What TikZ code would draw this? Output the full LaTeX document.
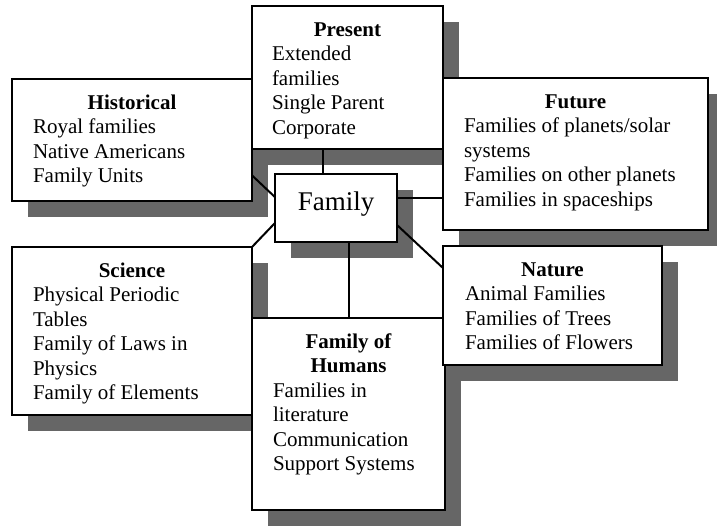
\documentclass[tikz,border=0pt]{standalone}
\usepackage{fontspec}
\setmainfont{Liberation Serif}
\usetikzlibrary{calc,backgrounds}

\tikzset{
  card/.style={draw=black, line width=2pt, fill=white, anchor=north west,
               inner sep=0pt, outer sep=0pt},
  shade/.style={fill=black!60, draw=none},
  link/.style={draw=black, line width=2pt},
  body/.style={anchor=base west, inner sep=0pt, outer sep=0pt,
               font=\fontsize{21}{24.4}\selectfont},
}
% centred bold heading followed by left-aligned lines
\newcommand\cardtext[3]{\parbox[t]{#1}{\centering\textbf{#2}\par\raggedright #3}}

\begin{document}
\begin{tikzpicture}[x=1pt,y=-1pt]
  \useasboundingbox (0,0) rectangle (717,525);

  % boxes
  \node[card, minimum width=240pt, minimum height=122pt] (hist) at (12,79) {};
  \node[card, minimum width=191pt, minimum height=143pt] (pres) at (252,6) {};
  \node[card, minimum width=265pt, minimum height=152pt] (fut)  at (443,78) {};
  \node[card, minimum width=240pt, minimum height=168pt] (sci)  at (12,247) {};
  \node[card, minimum width=193pt, minimum height=192pt] (hum)  at (252,318) {};
  \node[card, minimum width=219pt, minimum height=119pt] (nat)  at (443,246) {};
  \node[card, minimum width=122pt, minimum height=68pt]  (fam)  at (275,174) {};

  % page background and drop shadows behind every box
  \begin{pgfonlayer}{background}
    \fill[white] (0,0) rectangle (717,525);
    \foreach \b in {hist,pres,fut,sci,hum,nat,fam}
      \fill[shade] ($(\b.north west)+(16,16)$) rectangle ($(\b.south east)+(16,16)$);
  \end{pgfonlayer}

  % texts
  \node[font=\fontsize{27}{30}\selectfont, anchor=base, inner sep=0pt] (famtxt)
    at ($(fam.north)+(0,36)$) {Family};
  \node[body] (histtxt) at ($(hist.north west)+(21,30.5)$)
    {\cardtext{198pt}{Historical}{Royal families\\Native Americans\\Family Units}};
  \node[body] (prestxt) at ($(pres.north west)+(20,30.5)$)
    {\cardtext{151pt}{Present}{Extended\\families\\Single Parent\\Corporate}};
  \node[body] (futtxt) at ($(fut.north west)+(21,30.5)$)
    {\cardtext{223pt}{Future}{Families of planets/solar\\systems\\Families on other planets\\Families in spaceships}};
  \node[body] (scitxt) at ($(sci.north west)+(21,30.5)$)
    {\cardtext{198pt}{Science}{Physical Periodic\\Tables\\Family of Laws in\\Physics\\Family of Elements}};
  \node[body] (humtxt) at ($(hum.north west)+(21,30.5)$)
    {\cardtext{151pt}{Family of\\Humans}{Families in\\literature\\Communication\\Support Systems}};
  \node[body] (nattxt) at ($(nat.north west)+(22,30.5)$)
    {\cardtext{175pt}{Nature}{Animal Families\\Families of Trees\\Families of Flowers}};

  % connectors to the central box
  \draw[link] ($(hist.north east)!0.79!(hist.south east)$) -- ($(fam.north west)!0.34!(fam.south west)$);
  \draw[link] (sci.north east) -- ($(fam.north west)!0.72!(fam.south west)$);
  \draw[link] ($(fam.north west)!0.39!(fam.north east)$) coordinate (pa) -- (pa |- pres.south);
  \draw[link] ($(fam.north east)!0.35!(fam.south east)$) coordinate (fa) -- (fa -| fut.west);
  \draw[link] ($(fam.north east)!0.75!(fam.south east)$) -- ($(nat.north west)!0.185!(nat.south west)$);
  \draw[link] (hum.north) -- (hum.north |- fam.south);
\end{tikzpicture}
\end{document}
